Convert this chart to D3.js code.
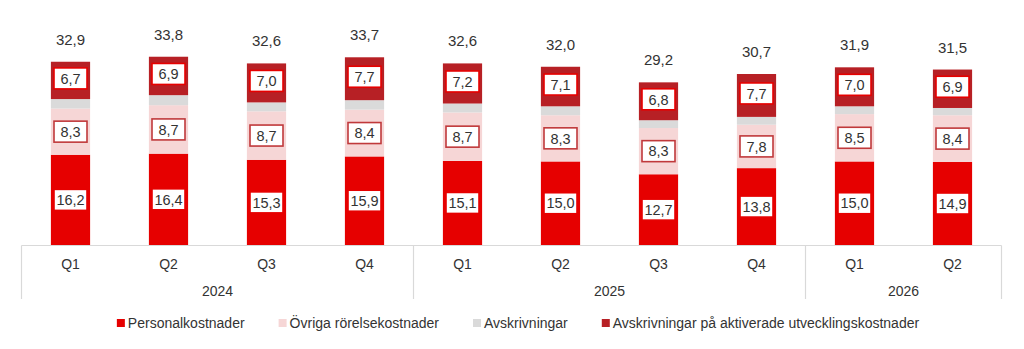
<!DOCTYPE html>
<html>
<head>
<meta charset="utf-8">
<script src="https://cdn.jsdelivr.net/npm/d3@7"></script>
<style>
  body { margin: 0; background: #fff; }
  svg text { font-family: "Liberation Sans", Arial, sans-serif; fill: #333; }
</style>
</head>
<body>
<svg id="chart" width="1024" height="349"></svg>
<script>
'use strict';

// chart data
var years = ["2024", "2024", "2024", "2024", "2025", "2025", "2025", "2025", "2026", "2026"];
var quarters = ["Q1", "Q2", "Q3", "Q4", "Q1", "Q2", "Q3", "Q4", "Q1", "Q2"];
var personal = [16.2, 16.4, 15.3, 15.9, 15.1, 15.0, 12.7, 13.8, 15.0, 14.9];
var ovriga = [8.3, 8.7, 8.7, 8.4, 8.7, 8.3, 8.3, 7.8, 8.5, 8.4];
var avskr = [1.7, 1.8, 1.6, 1.7, 1.6, 1.6, 1.4, 1.4, 1.4, 1.3];
var avskrAkt = [6.7, 6.9, 7.0, 7.7, 7.2, 7.1, 6.8, 7.7, 7.0, 6.9];
var totals = [32.9, 33.8, 32.6, 33.7, 32.6, 32.0, 29.2, 30.7, 31.9, 31.5];

var seriesNames = ["Personalkostnader", "Övriga rörelsekostnader", "Avskrivningar",
                   "Avskrivningar på aktiverade utvecklingskostnader"];

var keys = ["personal", "ovriga", "avskr", "avskrAkt"];
var colors = { personal: "#e60000", ovriga: "#f6d6d6", avskr: "#dadada", avskrAkt: "#b72025" };
var boxStroke = { personal: "#e60000", ovriga: "#c0393b", avskrAkt: "#e60000" };

var rows = quarters.map(function(q, i) {
  return { id: i, q: q, year: years[i], personal: personal[i], ovriga: ovriga[i],
           avskr: avskr[i], avskrAkt: avskrAkt[i], total: totals[i] };
});

var svg = d3.select("#chart");
var fmt = function(v) { return d3.format(".1f")(v).replace(".", ","); };

var x = d3.scaleBand()
    .domain(rows.map(function(d) { return d.id; }))
    .range([21.5, 1001.5])
    .paddingInner(0.6)
    .paddingOuter(0.3);

var y = d3.scaleLinear().domain([0, 40]).range([245, 22.2]);

var stack = d3.stack().keys(keys);
var layers = stack(rows);

// bars
var layer = svg.selectAll("g.layer")
    .data(layers)
    .enter().append("g")
    .attr("class", "layer")
    .attr("fill", function(d) { return colors[d.key]; });

layer.selectAll("rect")
    .data(function(d) { return d; })
    .enter().append("rect")
    .attr("x", function(d) { return x(d.data.id); })
    .attr("width", x.bandwidth())
    .attr("y", function(d) { return y(d[1]); })
    .attr("height", function(d) { return y(d[0]) - y(d[1]); });

// value boxes (not on the grey segment)
layers.forEach(function(l) {
  if (l.key === "avskr") return;
  var g = svg.append("g").attr("class", "labels-" + l.key);
  var lab = g.selectAll("g")
      .data(l)
      .enter().append("g")
      .attr("transform", function(d) {
        var cx = x(d.data.id) + x.bandwidth() / 2;
        var cy = (y(d[0]) + y(d[1])) / 2;
        if (l.key === "avskrAkt") cy -= 2;
        return "translate(" + cx + "," + cy + ")";
      });
  lab.append("rect")
      .attr("x", -16.5).attr("y", -10.5)
      .attr("width", 33).attr("height", 21)
      .attr("fill", "#fff")
      .attr("stroke", boxStroke[l.key])
      .attr("stroke-width", 1.6);
  lab.append("text")
      .attr("text-anchor", "middle")
      .attr("dy", "0.36em")
      .style("font-size", "14.5px")
      .text(function(d) { return fmt(d.data[l.key]); });
});

// totals
svg.selectAll("text.total")
    .data(rows)
    .enter().append("text")
    .attr("class", "total")
    .attr("x", function(d) { return x(d.id) + x.bandwidth() / 2; })
    .attr("y", function(d) { return y(d.total) - 17; })
    .attr("text-anchor", "middle")
    .style("font-size", "15px")
    .text(function(d) { return fmt(d.total); });

// category axis: quarter row + year row with separators
var axisY = 245.5;
svg.append("line")
    .attr("x1", 21.5).attr("x2", 1001.5)
    .attr("y1", axisY).attr("y2", axisY)
    .attr("stroke", "#d9d9d9").attr("stroke-width", 1.2);

svg.selectAll("text.q")
    .data(rows)
    .enter().append("text")
    .attr("class", "q")
    .attr("x", function(d) { return x(d.id) + x.bandwidth() / 2; })
    .attr("y", 269)
    .attr("text-anchor", "middle")
    .style("font-size", "14px")
    .text(function(d) { return d.q; });

var groups = d3.groups(rows, function(d) { return d.year; });
var step = x.step();
var bounds = groups.map(function(g) {
  var first = g[1][0].id, last = g[1][g[1].length - 1].id;
  var x0 = x(first) + x.bandwidth() / 2 - step / 2;
  var x1 = x(last) + x.bandwidth() / 2 + step / 2;
  return { year: g[0], x0: x0, x1: x1 };
});

var seps = [bounds[0].x0].concat(bounds.map(function(b) { return b.x1; }));
svg.selectAll("line.sep")
    .data(seps)
    .enter().append("line")
    .attr("class", "sep")
    .attr("x1", function(d) { return d; }).attr("x2", function(d) { return d; })
    .attr("y1", axisY).attr("y2", 299)
    .attr("stroke", "#d9d9d9").attr("stroke-width", 1.2);

svg.selectAll("text.year")
    .data(bounds)
    .enter().append("text")
    .attr("class", "year")
    .attr("x", function(d) { return (d.x0 + d.x1) / 2; })
    .attr("y", 296)
    .attr("text-anchor", "middle")
    .style("font-size", "14px")
    .text(function(d) { return d.year; });

// legend
var legend = svg.append("g").attr("class", "legend");
var lx = 0;
seriesNames.forEach(function(name, i) {
  var item = legend.append("g").attr("transform", "translate(" + lx + ",0)");
  item.append("rect")
      .attr("x", 0).attr("y", -4)
      .attr("width", 8).attr("height", 8)
      .attr("fill", colors[keys[i]]);
  var t = item.append("text")
      .attr("x", 11).attr("dy", "0.36em")
      .style("font-size", "14px")
      .text(name);
  lx += 11 + t.node().getComputedTextLength() + 34;
});
var legendW = lx - 34;
legend.attr("transform", "translate(" + (518 - legendW / 2) + ",323)");
</script>
</body>
</html>
